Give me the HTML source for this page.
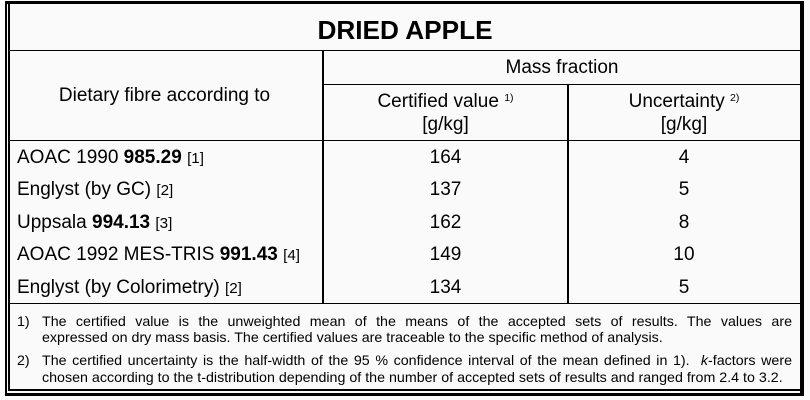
<!DOCTYPE html>
<html><head><meta charset="utf-8">
<style>
html,body{margin:0;padding:0;}
body{width:810px;height:400px;background:#fafafa;position:relative;overflow:hidden;font-family:"Liberation Sans",Arial,sans-serif;color:#000;}
.a{position:absolute;}
.k{position:absolute;background:#000;}
.t{position:absolute;line-height:1;white-space:nowrap;font-size:19px;}
.c{text-align:center;}
.r{font-size:15.2px;}
sup{font-size:10.5px;vertical-align:6px;line-height:0;}
.f{position:absolute;font-size:14.25px;line-height:1;white-space:nowrap;}
.j{text-align:justify;text-align-last:justify;width:750px;left:42px;white-space:normal;}
</style></head><body>
<div class="a" style="left:5px;top:1px;width:799px;height:395px;box-sizing:border-box;border-style:solid;border-color:#000;border-width:3px 4px 3px 2px;"></div>
<div class="k" style="left:8px;top:1px;width:2px;height:390px;"></div>
<div class="k" style="left:8px;top:389px;width:794px;height:2px;"></div>

<div class="k" style="left:10px;top:50px;width:790px;height:1px;"></div>
<div class="k" style="left:324px;top:84px;width:476px;height:1px;"></div>
<div class="k" style="left:10px;top:140px;width:790px;height:1px;"></div>
<div class="k" style="left:10px;top:303px;width:790px;height:1px;"></div>
<div class="k" style="left:322px;top:50px;width:2px;height:254px;"></div>
<div class="k" style="left:567px;top:84px;width:2px;height:220px;"></div>

<div class="t c" style="left:10px;width:790px;top:17px;font-size:26.2px;font-weight:bold;">DRIED APPLE</div>
<div class="t c" style="left:8px;width:313px;top:86.2px;">Dietary fibre according to</div>
<div class="t c" style="left:324px;width:476px;top:58px;">Mass fraction</div>
<div class="t c" style="left:324px;width:243px;top:92.2px;">Certified value <sup>1)</sup></div>
<div class="t c" style="left:324px;width:243px;top:114.9px;">[g/kg]</div>
<div class="t c" style="left:568px;width:232px;top:92.2px;">Uncertainty <sup>2)</sup></div>
<div class="t c" style="left:568px;width:232px;top:114.9px;">[g/kg]</div>

<div class="t" style="left:17px;top:148px;">AOAC 1990 <b>985.29</b> <span class="r">[1]</span></div>
<div class="t" style="left:17px;top:180.4px;">Englyst (by GC) <span class="r">[2]</span></div>
<div class="t" style="left:17px;top:212.9px;">Uppsala <b>994.13</b> <span class="r">[3]</span></div>
<div class="t" style="left:17px;top:245.4px;">AOAC 1992 MES-TRIS <b>991.43</b> <span class="r">[4]</span></div>
<div class="t" style="left:17px;top:277.9px;">Englyst (by Colorimetry) <span class="r">[2]</span></div>

<div class="t c" style="left:324px;width:243px;top:148px;">164</div>
<div class="t c" style="left:324px;width:243px;top:180.4px;">137</div>
<div class="t c" style="left:324px;width:243px;top:212.9px;">162</div>
<div class="t c" style="left:324px;width:243px;top:245.4px;">149</div>
<div class="t c" style="left:324px;width:243px;top:277.9px;">134</div>

<div class="t c" style="left:568px;width:232px;top:148px;">4</div>
<div class="t c" style="left:568px;width:232px;top:180.4px;">5</div>
<div class="t c" style="left:568px;width:232px;top:212.9px;">8</div>
<div class="t c" style="left:568px;width:232px;top:245.4px;">10</div>
<div class="t c" style="left:568px;width:232px;top:277.9px;">5</div>

<div class="f" style="left:17px;top:315.2px;">1)</div>
<div class="f j" style="top:315.2px;">The certified value is the unweighted mean of the means of the accepted sets of results. The values are</div>
<div class="f" style="left:42px;top:331.2px;">expressed on dry mass basis. The certified values are traceable to the specific method of analysis.</div>
<div class="f" style="left:17px;top:353.9px;">2)</div>
<div class="f j" style="top:353.9px;">The certified uncertainty is the half-width of the 95 % confidence interval of the mean defined in 1).&nbsp; <i>k</i>-factors were</div>
<div class="f" style="left:42px;top:370.6px;">chosen according to the t-distribution depending of the number of accepted sets of results and ranged from 2.4 to 3.2.</div>
</body></html>
